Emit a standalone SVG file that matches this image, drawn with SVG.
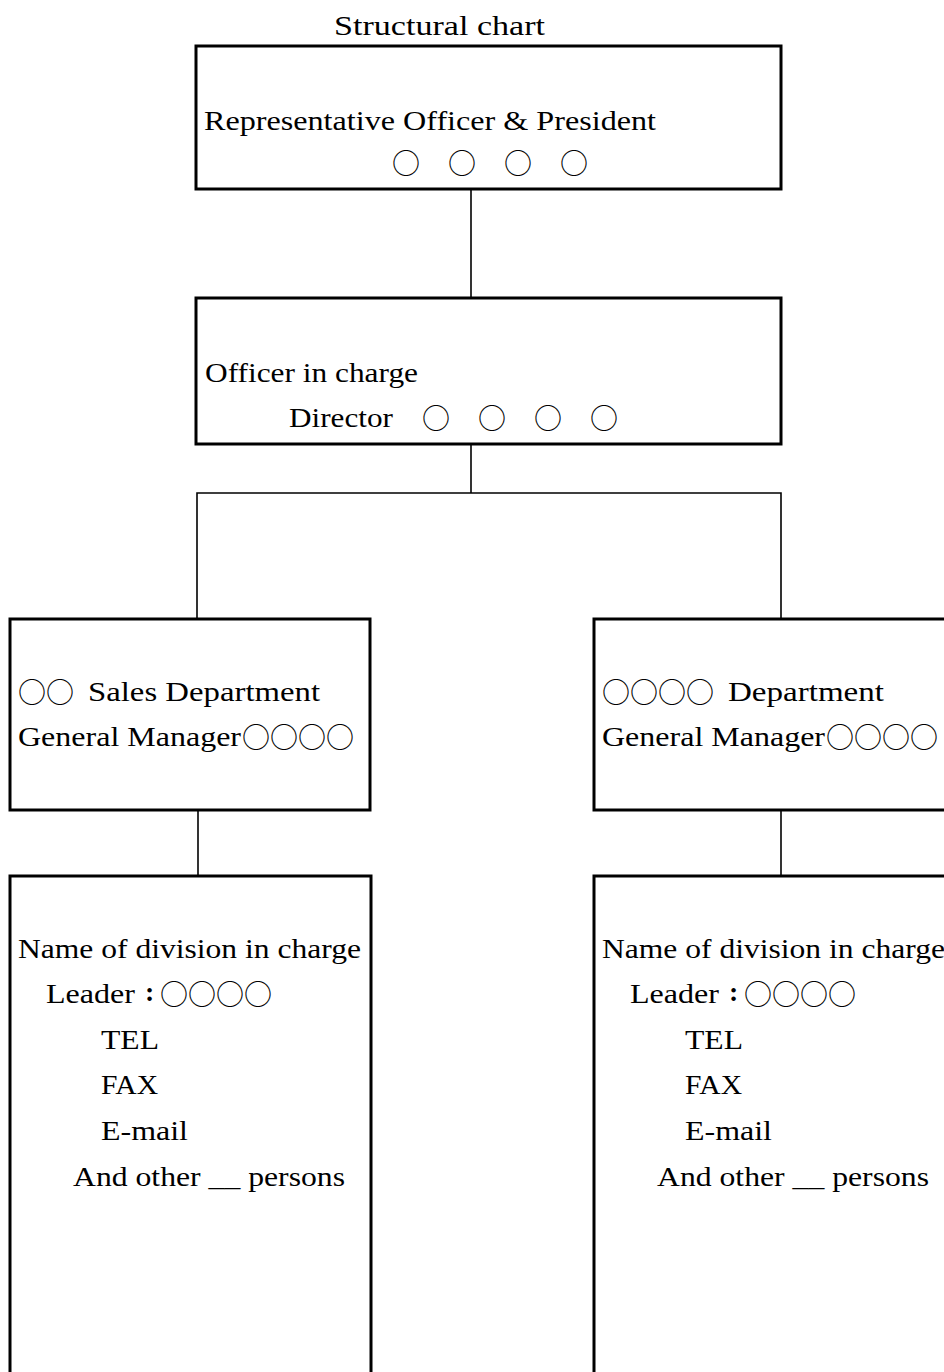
<svg xmlns="http://www.w3.org/2000/svg" width="944" height="1372" viewBox="0 0 944 1372">
<style>
.box{fill:#fff;stroke:#000;stroke-width:3}
.con{fill:none;stroke:#000;stroke-width:1.6}
text{font-family:"Liberation Serif","Noto Sans CJK JP",serif;font-size:28px;fill:#000}
.cj{font-family:"Noto Sans CJK JP","Liberation Serif",sans-serif;font-size:28px}
.colon{font-weight:bold}
</style>
<rect x="0" y="0" width="944" height="1372" fill="#fff"/>
<text x="334" y="35" textLength="211" lengthAdjust="spacingAndGlyphs">Structural chart</text>
<g id="connectors">
<line class="con" x1="471" y1="189" x2="471" y2="298"/>
<line class="con" x1="471" y1="444" x2="471" y2="493"/>
<polyline class="con" points="197,619 197,493 781,493 781,619"/>
<line class="con" x1="198" y1="810" x2="198" y2="876"/>
<line class="con" x1="781" y1="810" x2="781" y2="876"/>
</g>
<g id="president">
<rect class="box" x="196" y="46" width="585" height="143"/>
<text x="204" y="130" textLength="452" lengthAdjust="spacingAndGlyphs">Representative Officer &amp; President</text>
<text class="cj" x="392" y="174">○</text>
<text class="cj" x="448" y="174">○</text>
<text class="cj" x="504" y="174">○</text>
<text class="cj" x="560" y="174">○</text>
</g>
<g id="director">
<rect class="box" x="196" y="298" width="585" height="146"/>
<text x="205" y="382" textLength="213" lengthAdjust="spacingAndGlyphs">Officer in charge</text>
<text x="289" y="427" textLength="104" lengthAdjust="spacingAndGlyphs">Director</text>
<text class="cj" x="422" y="429">○</text>
<text class="cj" x="478" y="429">○</text>
<text class="cj" x="534" y="429">○</text>
<text class="cj" x="590" y="429">○</text>
</g>
<g id="sales-dept">
<rect class="box" x="10" y="619" width="360" height="191"/>
<text class="cj" x="18" y="703">○○</text>
<text x="88" y="701" textLength="232" lengthAdjust="spacingAndGlyphs">Sales Department</text>
<text x="18" y="746" textLength="223" lengthAdjust="spacingAndGlyphs">General Manager</text>
<text class="cj" x="242" y="748">○○○○</text>
</g>
<g id="other-dept">
<rect class="box" x="594" y="619" width="370" height="191"/>
<text class="cj" x="602" y="703">○○○○</text>
<text x="728" y="701" textLength="156" lengthAdjust="spacingAndGlyphs">Department</text>
<text x="602" y="746" textLength="223" lengthAdjust="spacingAndGlyphs">General Manager</text>
<text class="cj" x="826" y="748">○○○○</text>
</g>
<g id="sales-division">
<rect class="box" x="10" y="876" width="361" height="520"/>
<text x="18" y="958" textLength="343" lengthAdjust="spacingAndGlyphs">Name of division in charge</text>
<text x="46" y="1003" textLength="89" lengthAdjust="spacingAndGlyphs">Leader</text>
<text class="colon" x="145" y="1001">:</text>
<text class="cj" x="160" y="1005">○○○○</text>
<text x="101" y="1049" textLength="58" lengthAdjust="spacingAndGlyphs">TEL</text>
<text x="101" y="1094" textLength="57" lengthAdjust="spacingAndGlyphs">FAX</text>
<text x="101" y="1140" textLength="87" lengthAdjust="spacingAndGlyphs">E-mail</text>
<text x="73" y="1186" textLength="272" lengthAdjust="spacingAndGlyphs">And other __ persons</text>
</g>
<g id="other-division">
<rect class="box" x="594" y="876" width="370" height="520"/>
<text x="602" y="958" textLength="343" lengthAdjust="spacingAndGlyphs">Name of division in charge</text>
<text x="630" y="1003" textLength="89" lengthAdjust="spacingAndGlyphs">Leader</text>
<text class="colon" x="729" y="1001">:</text>
<text class="cj" x="744" y="1005">○○○○</text>
<text x="685" y="1049" textLength="58" lengthAdjust="spacingAndGlyphs">TEL</text>
<text x="685" y="1094" textLength="57" lengthAdjust="spacingAndGlyphs">FAX</text>
<text x="685" y="1140" textLength="87" lengthAdjust="spacingAndGlyphs">E-mail</text>
<text x="657" y="1186" textLength="272" lengthAdjust="spacingAndGlyphs">And other __ persons</text>
</g>
</svg>
